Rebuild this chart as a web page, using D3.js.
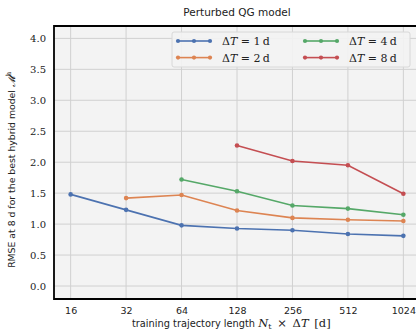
<!DOCTYPE html>
<html>
<head>
<meta charset="utf-8">
<script src="https://cdn.jsdelivr.net/npm/d3@7"></script>
<style>
  body { margin: 0; background: #fff; }
  svg { display: block; }
</style>
</head>
<body>
<svg id="chart" width="416" height="334"></svg>
<script>
// training trajectory length (days)
const lengths = [16, 32, 64, 128, 256, 512, 1024];
const yTicks = [0.0, 0.5, 1.0, 1.5, 2.0, 2.5, 3.0, 3.5, 4.0];

// RMSE values per ΔT series
const dt1 = [1.48, 1.23, 0.98, 0.93, 0.90, 0.84, 0.81];
const dt2 = [1.42, 1.47, 1.22, 1.10, 1.07, 1.05];
const dt4 = [1.72, 1.53, 1.30, 1.25, 1.15];
const dt8 = [2.27, 2.02, 1.95, 1.49];

const seriesDefs = [
  { dt: 1, values: dt1, color: '#4c72b0' },
  { dt: 2, values: dt2, color: '#dd8452' },
  { dt: 4, values: dt4, color: '#55a868' },
  { dt: 8, values: dt8, color: '#c44e52' }
];

const svg = d3.select('#chart');
const pLeft = 54, pRight = 420, pTop = 26, pBottom = 299;

const x = d3.scaleLog().base(2)
  .domain([Math.pow(2, 3.7), Math.pow(2, 10.3)])
  .range([pLeft, pRight]);
const y = d3.scaleLinear().domain([-0.21, 4.2]).range([pBottom, pTop]);

// background
svg.append('rect')
  .attr('x', pLeft).attr('y', pTop)
  .attr('width', pRight - pLeft).attr('height', pBottom - pTop)
  .attr('fill', '#f3f3f3');

// grid
const grid = svg.append('g');
grid.selectAll('.vg').data(lengths).join('line')
  .attr('x1', d => x(d)).attr('x2', d => x(d))
  .attr('y1', pTop).attr('y2', pBottom)
  .attr('stroke', '#d0d0d0').attr('stroke-width', 1);
grid.selectAll('.hg').data(yTicks).join('line')
  .attr('x1', pLeft).attr('x2', pRight)
  .attr('y1', d => y(d)).attr('y2', d => y(d))
  .attr('stroke', '#d0d0d0').attr('stroke-width', 1);

// axes labels (tick text only, like the figure)
const xAxis = d3.axisBottom(x).tickValues(lengths).tickFormat(d3.format('d')).tickSize(0).tickPadding(8);
const gx = svg.append('g').attr('transform', `translate(0,${pBottom})`).call(xAxis);
gx.select('.domain').remove();
gx.selectAll('text').attr('font-family', 'DejaVu Sans').attr('font-size', 9.5).attr('fill', '#222');

const yAxis = d3.axisLeft(y).tickValues(yTicks).tickFormat(d3.format('.1f')).tickSize(0).tickPadding(8);
const gy = svg.append('g').attr('transform', `translate(${pLeft},0)`).call(yAxis);
gy.select('.domain').remove();
gy.selectAll('text').attr('font-family', 'DejaVu Serif').attr('font-size', 10).attr('fill', '#222');

// lines
const line = d3.line().x(d => x(d[0])).y(d => y(d[1]));
const plot = svg.append('g');
seriesDefs.forEach(s => {
  const xs = lengths.slice(lengths.length - s.values.length);
  const pts = s.values.map((v, i) => [xs[i], v]);
  plot.append('path').datum(pts)
    .attr('d', line).attr('fill', 'none')
    .attr('stroke', s.color).attr('stroke-width', 1.6);
  plot.selectAll(null).data(pts).join('circle')
    .attr('cx', d => x(d[0])).attr('cy', d => y(d[1]))
    .attr('r', 2.3).attr('fill', s.color);
});

// frame
const frame = svg.append('g').attr('stroke', '#000').attr('stroke-width', 1.8).attr('fill', 'none');
frame.append('path').attr('d', `M${pRight},${pTop}H${pLeft}V${pBottom}H${pRight}`);

// legend
const lg = svg.append('g').attr('transform', 'translate(172,32)');
lg.append('rect').attr('width', 238).attr('height', 35).attr('rx', 2)
  .attr('fill', '#f3f3f3').attr('fill-opacity', 0.9)
  .attr('stroke', '#d8d8d8').attr('stroke-width', 1);
seriesDefs.forEach((s, i) => {
  const col = Math.floor(i / 2), row = i % 2;
  const gx0 = 6 + col * 127, gy0 = 9 + row * 16.6;
  const g = lg.append('g').attr('transform', `translate(${gx0},${gy0})`);
  g.append('line').attr('x1', 0).attr('x2', 32).attr('stroke', s.color).attr('stroke-width', 1.6);
  [0, 16, 32].forEach(cx => g.append('circle').attr('cx', cx).attr('r', 2.1).attr('fill', s.color));
  const t = g.append('text').attr('x', 44).attr('y', 4)
    .attr('font-family', 'DejaVu Serif').attr('font-size', 11).attr('fill', '#222');
  t.append('tspan').text('Δ');
  t.append('tspan').attr('font-style', 'italic').text('T');
  t.append('tspan').text(` = ${s.dt}\u2009d`);
});

// title
svg.append('text').attr('x', (pLeft + pRight) / 2).attr('y', 16)
  .attr('text-anchor', 'middle').attr('font-family', 'DejaVu Sans')
  .attr('font-size', 10.5).attr('fill', '#222').text('Perturbed QG model');

// x label
const xl = svg.append('text').attr('x', 132).attr('y', 327)
  .attr('font-family', 'DejaVu Sans')
  .attr('font-size', 9.8).attr('fill', '#222');
xl.append('tspan').text('training trajectory length ');
const mt = (txt, extra) => {
  const ts = xl.append('tspan').attr('font-family', 'DejaVu Serif').attr('font-size', 11.5).text(txt);
  if (extra) extra(ts);
  return ts;
};
mt('N', ts => ts.attr('font-style', 'italic'));
mt('t', ts => ts.attr('font-size', 8).attr('dy', 2));
mt('\u2002×\u2002Δ', ts => ts.attr('dy', -2));
mt('T', ts => ts.attr('font-style', 'italic'));
mt('\u2002[d]');

// y label
const yl = svg.append('text')
  .attr('transform', `translate(15,170) rotate(-90)`)
  .attr('text-anchor', 'middle').attr('font-family', 'DejaVu Sans')
  .attr('font-size', 9.3).attr('fill', '#222');
yl.append('tspan').text('RMSE at 8 d for the best hybrid model ');
yl.append('tspan').attr('font-family', 'DejaVu Serif').attr('font-style', 'italic').attr('font-size', 9.5).text('𝓜');
yl.append('tspan').attr('font-family', 'DejaVu Serif').attr('font-size', 7).attr('dy', -4).text('h');
yl.attr('x', 0);
// centre the label on the span it covers in the figure (about y 60 to 280)
const bb = yl.node().getBBox();
yl.attr('transform', `translate(15,${170 + (bb.x + bb.width / 2) * -1}) rotate(-90)`);
</script>
</body>
</html>
